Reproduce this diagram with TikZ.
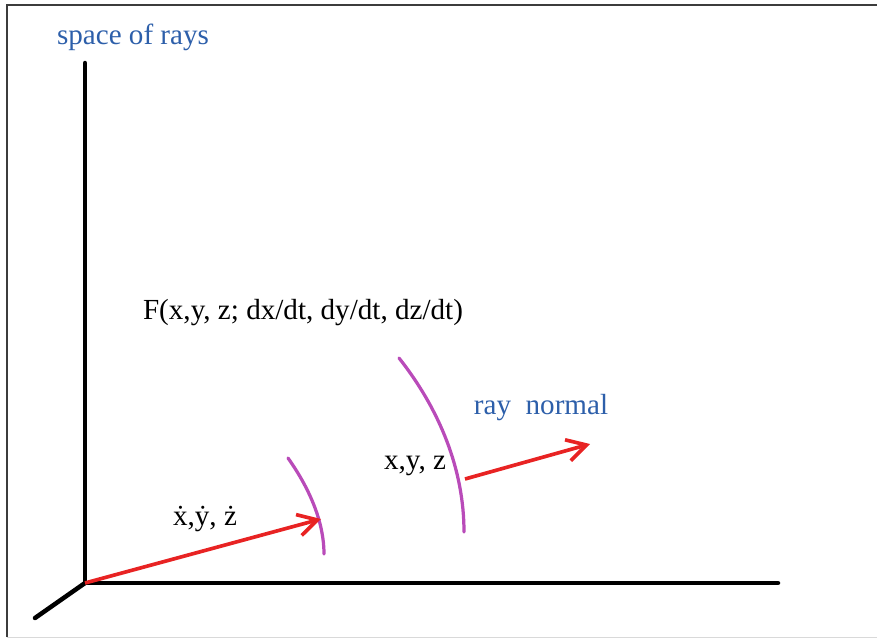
\documentclass[tikz,border=0pt]{standalone}
\usepackage{fontspec}
\setmainfont{Liberation Serif}
\usetikzlibrary{arrows.meta}
\definecolor{raycol}{RGB}{232,35,35}
\definecolor{frontcol}{RGB}{185,75,185}
\definecolor{labelcol}{RGB}{45,95,170}
\definecolor{framecol}{RGB}{60,60,60}

\begin{document}
\begin{tikzpicture}[
  x=0.025cm, y=-0.025cm,
  font=\fontsize{20.7}{24}\selectfont,
  axis/.style={draw=black, line width=3.2pt, line cap=round},
  ray/.style={draw=raycol, line width=2.6pt,
    -{Straight Barb[length=4.8mm, width=5.4mm]}},
  front/.style={draw=frontcol, line width=2.3pt, line cap=round},
  txt/.style={inner sep=0pt, text=black},
  bluetxt/.style={inner sep=0pt, text=labelcol},
]
\useasboundingbox (0,0) rectangle (877,639);

% ---- Frame ----
\draw[framecol, line width=0.8pt] (7,637) -- (7,5) -- (877,5);
\draw[black!15, line width=0.6pt] (7,637) -- (877,637);

% ---- Axes ----
\coordinate (O)    at (85,583);
\coordinate (ytop) at (85,63);
\coordinate (xend) at (778,583);
\coordinate (zend) at (35,618);
\foreach \e in {ytop, xend, zend}
  \draw[axis] (O) -- (\e);

% ---- Wave fronts ----
\draw[front] (288,458) .. controls (312,492) and (324,525) .. (324,554);
\draw[front] (399,358) .. controls (440,410) and (464,470) .. (464,532);

% ---- Rays ----
\coordinate (tip1)  at (321,519);
\coordinate (foot2) at (465,479);
\coordinate (tip2)  at (590,444);
\draw[ray] (O) -- (tip1);
\draw[ray] (foot2) -- (tip2);

% ---- Labels ----
\node[bluetxt] (space)  at (133,37)  {space of rays};
\node[txt]     (F)      at (303,313) {F(x,y, z; dx/dt, dy/dt, dz/dt)};
\node[bluetxt] (normal) at (541,408) {ray\ \ normal};
\node[txt]     (pos)    at (415,466) {x,y, z};
\node[txt]     (vel)    at (205,519) {\.{x},\.{y}, \.{z}};

\end{tikzpicture}
\end{document}
